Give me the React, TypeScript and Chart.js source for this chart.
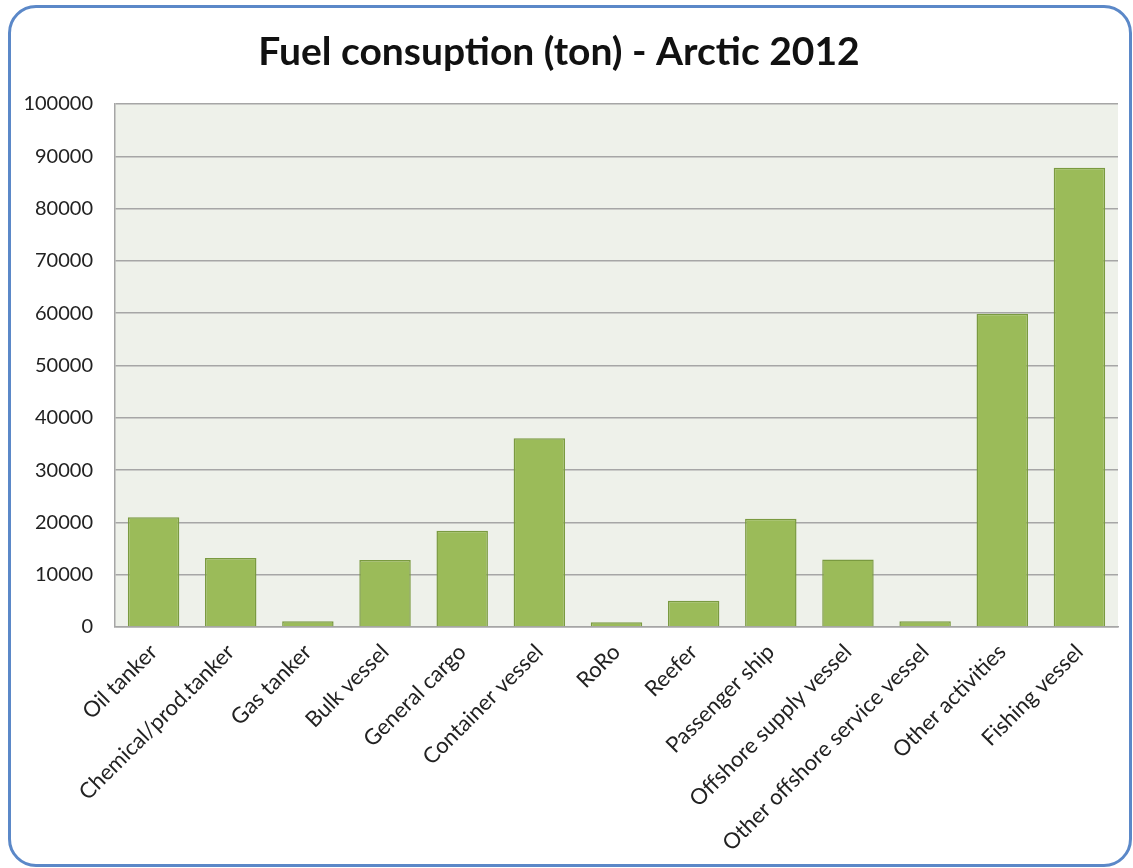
import React, { useEffect, useRef } from "react";
import { Chart, registerables } from "chart.js";

Chart.register(...registerables);

// Vessel categories on the x axis
const categories: string[] = [
  "Oil tanker",
  "Chemical/prod.tanker",
  "Gas tanker",
  "Bulk vessel",
  "General cargo",
  "Container vessel",
  "RoRo",
  "Reefer",
  "Passenger ship",
  "Offshore supply vessel",
  "Other offshore service vessel",
  "Other activities",
  "Fishing vessel",
];

// Fuel consumption in tons, one value per category
const fuelTons: number[] = [
  21000, 13200, 1100, 12800, 18400, 36100, 900, 5000, 20700, 12900, 1100, 59900, 87800,
];

const yMin = 0;
const yMax = 100000;
const yStep = 10000;

const titleText = "Fuel consuption (ton) - Arctic 2012";

const FONT = "Lato, 'Open Sans', sans-serif";

// Fills the plotting area with a pale green-grey before anything else is drawn
const plotBackground = {
  id: "plotBackground",
  beforeDraw(chart: Chart) {
    const { ctx, chartArea } = chart;
    if (!chartArea) return;
    ctx.save();
    ctx.fillStyle = "#eef1ea";
    ctx.fillRect(chartArea.left, chartArea.top, chartArea.right - chartArea.left, chartArea.bottom - chartArea.top);
    ctx.restore();
  },
};

export default function App() {
  const canvasRef = useRef<HTMLCanvasElement | null>(null);

  useEffect(() => {
    if (!canvasRef.current) return;
    const chart = new Chart(canvasRef.current, {
      type: "bar",
      data: {
        labels: categories,
        datasets: [
          {
            label: "Fuel consumption (ton)",
            data: fuelTons,
            backgroundColor: "#9bbb59",
            borderColor: "#7a9a40",
            borderWidth: 1.5,
            categoryPercentage: 1,
            barPercentage: 0.667,
          },
        ],
      },
      options: {
        responsive: false,
        animation: false,
        layout: { padding: { top: 29, right: 15, bottom: 0, left: 0 } },
        plugins: {
          legend: { display: false },
          tooltip: { enabled: false },
          title: {
            display: true,
            text: titleText,
            color: "#111111",
            font: { family: FONT, size: 39, weight: "bold", lineHeight: 1.2 },
            padding: { top: 0, bottom: 28.2 },
          },
        },
        scales: {
          x: {
            grid: { display: false, drawTicks: false },
            border: { display: true, color: "#a6a6a6", width: 1.5 },
            ticks: {
              color: "#222222",
              font: { family: FONT, size: 22 },
              minRotation: 45,
              maxRotation: 45,
              autoSkip: false,
              padding: 12,
            },
            afterFit(scale: any) {
              scale.height = 241;
            },
          },
          y: {
            min: yMin,
            max: yMax,
            grid: { color: "#a6a6a6", lineWidth: 1.5, drawTicks: false },
            border: { display: true, color: "#a6a6a6", width: 1.5 },
            ticks: {
              stepSize: yStep,
              color: "#222222",
              font: { family: FONT, size: 20 },
              padding: 22,
              callback: (value: any) => String(value),
            },
            afterFit(scale: any) {
              scale.width = 115;
            },
          },
        },
      },
      plugins: [plotBackground],
    });
    return () => chart.destroy();
  }, []);

  return (
    <div style={{ position: "fixed", left: 0, top: 0, width: 1133, height: 868, background: "#ffffff" }}>
      <div
        style={{
          position: "absolute",
          left: 8,
          top: 5,
          width: 1118,
          height: 856,
          border: "3px solid #5b88c8",
          borderRadius: 28,
          boxSizing: "content-box",
        }}
      />
      <canvas ref={canvasRef} width={1133} height={868} style={{ position: "absolute", left: 0, top: 0 }} />
    </div>
  );
}
